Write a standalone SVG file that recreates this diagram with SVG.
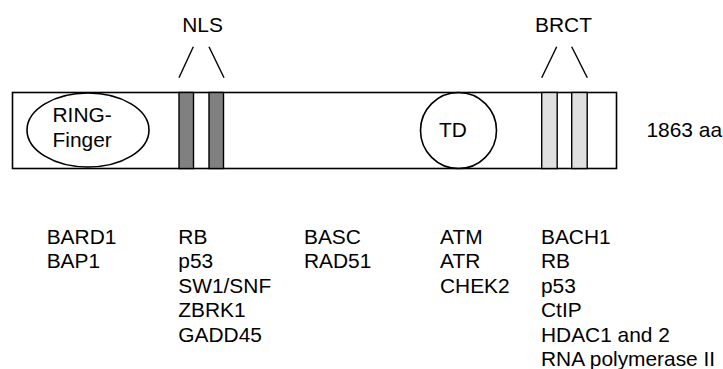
<svg xmlns="http://www.w3.org/2000/svg" width="723" height="369" viewBox="0 0 723 369">
<style>
text{font-family:"Liberation Sans",Arial,sans-serif;font-size:20.9px;fill:#000}
.o{fill:none;stroke:#000;stroke-width:1.6}
.w{fill:#fff;stroke:#000;stroke-width:1.6}
.dk{fill:#808080;stroke:#000;stroke-width:1.4}
.lt{fill:#e0e0e0;stroke:#000;stroke-width:1.4}
.c{stroke:#000;stroke-width:1.4;fill:none}
</style>
<rect width="723" height="369" fill="#fff"/>
<g id="protein">
<rect class="w" x="12.5" y="92.5" width="604" height="76"/>
<text x="646.5" y="137">1863 aa</text>
</g>
<g id="ring-finger">
<ellipse class="o" cx="88" cy="130" rx="61" ry="37"/>
<text x="52.5" y="122">RING-</text>
<text x="52.5" y="146.5">Finger</text>
</g>
<g id="nls">
<rect class="dk" x="179" y="92.5" width="14.5" height="76"/>
<rect class="dk" x="209" y="92.5" width="14.5" height="76"/>
<text x="202.5" y="31.7" text-anchor="middle">NLS</text>
</g>
<g id="td">
<circle class="o" cx="458.5" cy="130.5" r="38"/>
<text x="453" y="137" text-anchor="middle">TD</text>
</g>
<g id="brct">
<rect class="lt" x="541.7" y="92.5" width="15.5" height="76"/>
<rect class="lt" x="571.7" y="92.5" width="15.5" height="76"/>
<text x="563.5" y="31.7" text-anchor="middle">BRCT</text>
</g>
<g id="connectors">
<line class="c" x1="179" y1="77.7" x2="193.3" y2="46.7"/>
<line class="c" x1="209" y1="46.7" x2="224" y2="77.7"/>
<line class="c" x1="541.7" y1="77.7" x2="556.7" y2="46.7"/>
<line class="c" x1="571.7" y1="46.7" x2="587.3" y2="77.7"/>
</g>
<g id="ring-partners">
<text x="46.7" y="243.5">BARD1</text>
<text x="46.7" y="268">BAP1</text>
</g>
<g id="nls-partners">
<text x="178.3" y="243.5">RB</text>
<text x="178.3" y="268">p53</text>
<text x="178.3" y="292.5">SW1/SNF</text>
<text x="178.3" y="317">ZBRK1</text>
<text x="178.3" y="341.5">GADD45</text>
</g>
<g id="mid-partners">
<text x="304" y="243.5">BASC</text>
<text x="304" y="268">RAD51</text>
</g>
<g id="td-partners">
<text x="440" y="243.5">ATM</text>
<text x="440" y="268">ATR</text>
<text x="440" y="292.5">CHEK2</text>
</g>
<g id="brct-partners">
<text x="541" y="243.5">BACH1</text>
<text x="541" y="268">RB</text>
<text x="541" y="292.5">p53</text>
<text x="541" y="317">CtIP</text>
<text x="541" y="341.5">HDAC1 and 2</text>
<text x="541" y="366">RNA polymerase II</text>
</g>
</svg>
